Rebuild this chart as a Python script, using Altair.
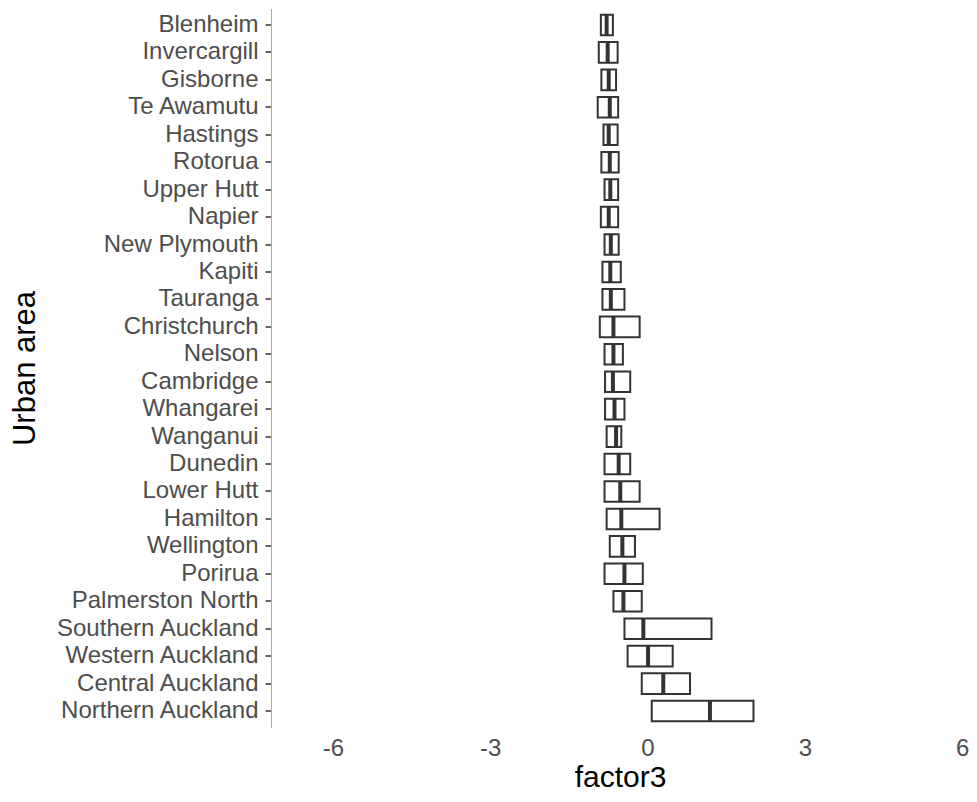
import altair as alt
import pandas as pd

areas = ["Blenheim", "Invercargill", "Gisborne", "Te Awamutu", "Hastings", "Rotorua",
         "Upper Hutt", "Napier", "New Plymouth", "Kapiti", "Tauranga", "Christchurch",
         "Nelson", "Cambridge", "Whangarei", "Wanganui", "Dunedin", "Lower Hutt",
         "Hamilton", "Wellington", "Porirua", "Palmerston North", "Southern Auckland",
         "Western Auckland", "Central Auckland", "Northern Auckland"]
q1 = [-0.89, -0.93, -0.88, -0.95, -0.84, -0.88, -0.82, -0.89, -0.82, -0.86, -0.86, -0.91,
      -0.82, -0.81, -0.81, -0.78, -0.82, -0.82, -0.78, -0.72, -0.82, -0.65, -0.44,
      -0.38, -0.11, 0.08]
median = [-0.78, -0.76, -0.74, -0.72, -0.74, -0.72, -0.71, -0.74, -0.70, -0.71, -0.70, -0.65,
          -0.65, -0.66, -0.63, -0.60, -0.55, -0.52, -0.50, -0.48, -0.44, -0.46, -0.08,
          0.01, 0.30, 1.19]
q3 = [-0.66, -0.57, -0.60, -0.56, -0.57, -0.55, -0.56, -0.56, -0.55, -0.51, -0.44, -0.15,
      -0.47, -0.33, -0.44, -0.50, -0.33, -0.15, 0.23, -0.24, -0.09, -0.11, 1.22,
      0.48, 0.81, 2.02]
x_ticks = [-6, -3, 0, 3, 6]

df = pd.DataFrame({"area": areas, "q1": q1, "median": median, "q3": q3})

W = 698
H = 719
step = H / 26.2
box_h = step * 0.75

xscale = alt.Scale(domain=[-7.18, 6.13], nice=False, zero=False)
yscale = alt.Scale(domain=areas, paddingInner=0.25, paddingOuter=0.225)

base = alt.Chart(df)

boxes = base.mark_bar(fill="white", stroke="#333333", strokeWidth=2).encode(
    x=alt.X("q1:Q", scale=xscale,
            axis=alt.Axis(title="factor3", values=x_ticks, grid=False, domain=False,
                          ticks=False, labelPadding=9, labelFontSize=24,
                          labelExpr="'' + datum.value",
                          labelColor="#4d4d4d", labelFont="Liberation Sans",
                          titleFont="Liberation Sans", titleFontSize=30,
                          titleFontWeight="normal", titleColor="black",
                          titleBaseline="alphabetic", titleY=59)),
    x2="q3:Q",
    y=alt.Y("area:N", scale=yscale, sort=areas,
            axis=alt.Axis(title="Urban area", grid=False, domainColor="#aaaaaa",
                          domainWidth=1, tickColor="#333333", tickWidth=1.5,
                          tickSize=6, labelPadding=7, labelFontSize=24, labelLimit=0,
                          labelColor="#4d4d4d", labelFont="Liberation Sans",
                          titleFont="Liberation Sans", titleFontSize=31,
                          titleFontWeight="normal", titleColor="black",
                          titleX=-246, titleBaseline="middle")),
)

meds = base.mark_tick(color="#333333", thickness=4, size=box_h, opacity=1).encode(
    x=alt.X("median:Q", scale=xscale),
    y=alt.Y("area:N", scale=yscale, sort=areas),
)

chart = (boxes + meds).properties(
    width=W, height=H,
    autosize=alt.AutoSizeParams(type="none"),
    padding={"left": 263, "top": 0.5, "right": 0, "bottom": 66},
    background="white",
).configure_view(stroke=None)

chart.save("out.html", embed_options={"renderer": "svg", "actions": False})
